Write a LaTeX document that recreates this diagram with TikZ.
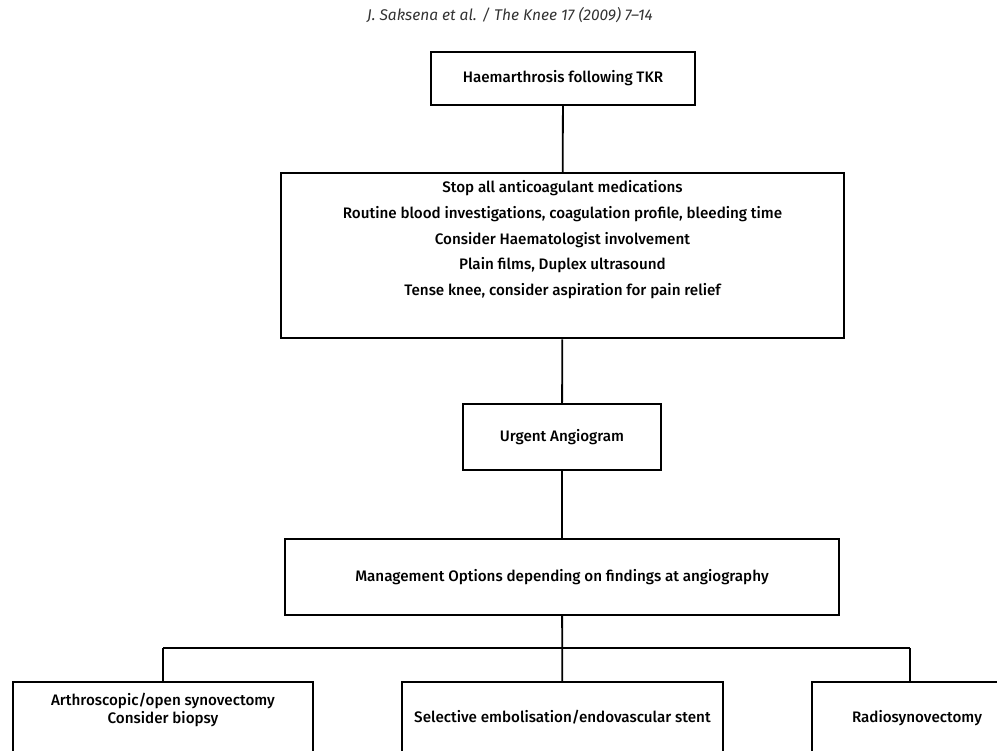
\documentclass[tikz,border=0pt]{standalone}
\usepackage{fontspec}
\setmainfont{Fira Sans}[UprightFont=* Medium, ItalicFont=* Italic]
\usepackage{tikz}

\begin{document}
\begin{tikzpicture}[x=1pt, y=-1pt, font=\fontsize{15.2}{18}\selectfont,
  box/.style={draw, line width=2.4pt, inner sep=0pt, align=center},
  link/.style={line width=1.8pt}]
  \useasboundingbox (0,0) rectangle (997,751);
  \clip (0,0) rectangle (997,751);
  \node[font=\itshape\fontsize{15.5}{18}\selectfont, black!80] (cite) at (510,15) {J. Saksena et al. / The Knee 17 (2009) 7--14};
  \node[box, minimum width=264, minimum height=53] (tkr) at (563,78.5) {Haemarthrosis following TKR};
  \node[box, anchor=north, minimum width=563, text height=122.5pt, text depth=42.5pt,
    font=\fontsize{15.2}{25.75}\selectfont] (stop) at (562.5,172)
    {Stop all anticoagulant medications\\ Routine blood investigations, coagulation profile, bleeding time\\
     Consider Haematologist involvement\\ Plain films, Duplex ultrasound\\ Tense knee, consider aspiration for pain relief};
  \node[box, minimum width=198, minimum height=66] (angio) at (562,437) {Urgent Angiogram};
  \node[box, minimum width=554, minimum height=76] (mgmt) at (562,577) {Management Options depending on findings at angiography};
  \node[box, anchor=north, minimum width=300, text height=41pt, text depth=100pt] (synov) at (163,681)
    {Arthroscopic/open synovectomy\\ Consider biopsy};
  \node[box, anchor=north, minimum width=321, text height=40pt, text depth=100pt] (embol) at (562.5,681)
    {Selective embolisation/endovascular stent};
  \node[box, anchor=north, minimum width=210, text height=40pt, text depth=100pt] (radio) at (917,681)
    {Radiosynovectomy};
  \coordinate (barL) at (163,648); \coordinate (barR) at (910,648);
  \draw[link] (tkr) -- (stop); \draw[link] (stop) -- (angio); \draw[link] (angio) -- (mgmt);
  \draw[link] (mgmt) -- (embol);
  \draw[link] (barL) -- (barR);
  \draw[link] (barL) -- (barL |- synov.north); \draw[link] (barR) -- (barR |- radio.north);
\end{tikzpicture}
\end{document}
